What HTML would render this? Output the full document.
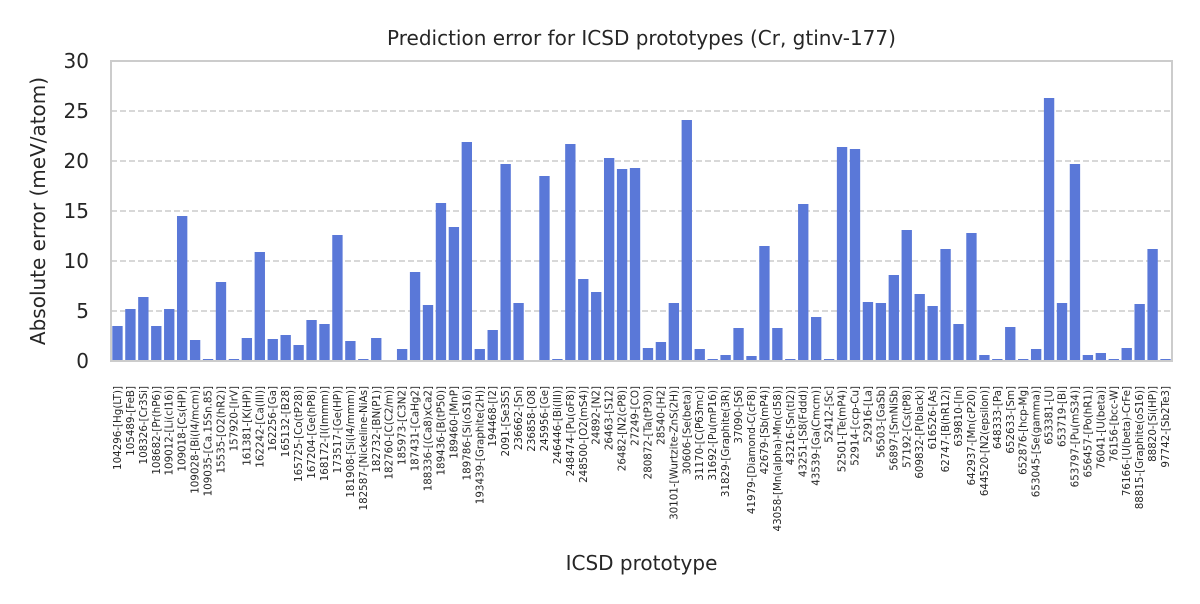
<!DOCTYPE html>
<html><head><meta charset="utf-8"><style>
body{margin:0;background:#fff;font-family:"DejaVu Sans","Liberation Sans",sans-serif}
</style></head><body>
<svg id="c" width="1200" height="600" xmlns="http://www.w3.org/2000/svg" font-family="DejaVu Sans, Liberation Sans, sans-serif"></svg>
<script>
const categories=["104296-[Hg(LT)]","105489-[FeB]","108326-[Cr3Si]","108682-[Pr(hP6)]","109012-[Li(cI16)]","109018-[Cs(HP)]","109028-[Bi(I4/mcm)]","109035-[Ca.15Sn.85]","15535-[O2(hR2)]","157920-[IrV]","161381-[K(HP)]","162242-[Ca(III)]","162256-[Ga]","165132-[B28]","165725-[Co(tP28)]","167204-[Ge(hP8)]","168172-[I(Immm)]","173517-[Ge(HP)]","181908-[Si(I4/mmm)]","182587-[Nickeline-NiAs]","182732-[BN(P1)]","182760-[C(C2/m)]","185973-[C3N2]","187431-[CaHg2]","188336-[(Ca8)xCa2]","189436-[B(tP50)]","189460-[MnP]","189786-[Si(oS16)]","193439-[Graphite(2H)]","194468-[I2]","2091-[Se3S5]","236662-[Sn]","236858-[O8]","245956-[Ge]","246446-[Bi(III)]","248474-[Pu(oF8)]","248500-[O2(mS4)]","24892-[N2]","26463-[S12]","26482-[N2(cP8)]","27249-[CO]","280872-[Ta(tP30)]","28540-[H2]","30101-[Wurtzite-ZnS(2H)]","30606-[Se(beta)]","31170-[C(P63mc)]","31692-[Pu(mP16)]","31829-[Graphite(3R)]","37090-[S6]","41979-[Diamond-C(cF8)]","42679-[Sb(mP4)]","43058-[Mn(alpha)-Mn(cI58)]","43216-[Sn(tI2)]","43251-[S8(Fddd)]","43539-[Ga(Cmcm)]","52412-[Sc]","52501-[Te(mP4)]","52914-[ccp-Cu]","52916-[La]","56503-[GaSb]","56897-[SmNiSb]","57192-[Cs(tP8)]","609832-[P(black)]","616526-[As]","62747-[B(hR12)]","639810-[In]","642937-[Mn(cP20)]","644520-[N2(epsilon)]","648333-[Pa]","652633-[Sm]","652876-[hcp-Mg]","653045-[Se(gamma)]","653381-[U]","653719-[Bi]","653797-[Pu(mS34)]","656457-[Po(hR1)]","76041-[U(beta)]","76156-[bcc-W]","76166-[U(beta)-CrFe]","88815-[Graphite(oS16)]","88820-[Si(HP)]","97742-[Sb2Te3]"];
const errors=[3.5,5.2,6.4,3.5,5.2,14.5,2.1,0.2,7.9,0.2,2.3,10.9,2.2,2.6,1.6,4.1,3.7,12.6,2.0,0.2,2.3,0.1,1.2,8.9,5.6,15.8,13.4,21.9,1.2,3.1,19.7,5.8,0.1,18.5,0.2,21.7,8.2,6.9,20.3,19.2,19.3,1.3,1.9,5.8,24.1,1.2,0.2,0.6,3.3,0.5,11.5,3.3,0.2,15.7,4.4,0.2,21.4,21.2,5.9,5.8,8.6,13.1,6.7,5.5,11.2,3.7,12.8,0.6,0.2,3.4,0.2,1.2,26.3,5.8,19.7,0.6,0.8,0.2,1.3,5.7,11.2,0.2];
const yTicks=[0,5,10,15,20,25,30];
const NS="http://www.w3.org/2000/svg";
const svg=document.getElementById('c');
const L=111,R=1172,T=61,B=361,yMax=30;
const y=v=>B-(v/yMax)*(B-T);
const step=(R-L)/categories.length;
const x=i=>L+step*(i+0.5);
function mk(tag,attrs,parent){const e=document.createElementNS(NS,tag);for(const k in attrs)e.setAttribute(k,attrs[k]);(parent||svg).appendChild(e);return e;}
yTicks.forEach(t=>{
  if(t>0&&t<yMax){const g=mk('line',{x1:L,x2:R,y1:y(t),y2:y(t),stroke:'#cccccc','stroke-width':1.5,'stroke-dasharray':'6,3'});
  
  }
  const tx=mk('text',{x:L-22,y:y(t)+7,'text-anchor':'end','font-size':20,fill:'#262626'});
  tx.textContent=t;
  
  
});
errors.forEach((v,i)=>{
  const w=step*0.8;
  const r=mk('rect',{x:x(i)-w/2,y:y(v),width:w,height:B-y(v),fill:'#5a78d8'});
  
  
  const t=mk('text',{transform:`translate(${x(i)+3.5},386) rotate(-90)`,'text-anchor':'end','font-size':10.3,fill:'#262626'});
  t.textContent=categories[i];
  
  
});
const fr=mk('rect',{x:L,y:T,width:R-L,height:B-T,fill:'none',stroke:'#cccccc','stroke-width':2});


const ti=mk('text',{x:(L+R)/2,y:45,'text-anchor':'middle','font-size':20,fill:'#262626'});
ti.textContent='Prediction error for ICSD prototypes (Cr, gtinv-177)';


const xl=mk('text',{x:(L+R)/2,y:570,'text-anchor':'middle','font-size':20,fill:'#262626'});
xl.textContent='ICSD prototype';


const yl=mk('text',{transform:`translate(45,${(T+B)/2}) rotate(-90)`,'text-anchor':'middle','font-size':20,fill:'#262626'});
yl.textContent='Absolute error (meV/atom)';


</script>
</body></html>
